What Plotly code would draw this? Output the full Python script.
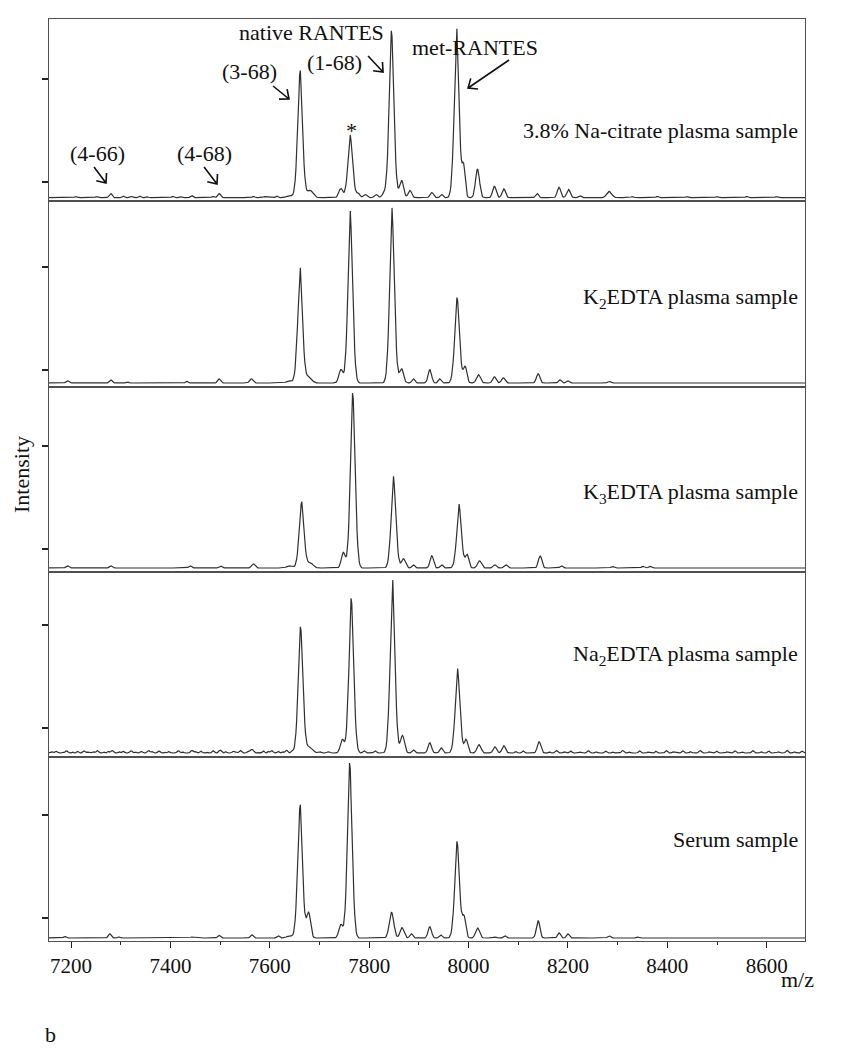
import math
import numpy as np
import plotly.graph_objects as go

# ---------------- data ----------------
MZ_RANGE = [7155.7, 8677.0]
X_TICKS = [7200, 7400, 7600, 7800, 8000, 8200, 8400, 8600]
X_MINOR = [7300, 7500, 7700, 7900, 8100, 8300, 8500]

sample_labels = [
    "3.8% Na-citrate plasma sample",
    "K<sub>2</sub>EDTA plasma sample",
    "K<sub>3</sub>EDTA plasma sample",
    "Na<sub>2</sub>EDTA plasma sample",
    "Serum sample",
]

# baseline level of each spectrum (intensity, a.u.)
baselines = [0.848, 0.874, 0.816, 0.757, 0.806]

# peaks: m/z, height above baseline, width (sigma, Da)
citrate_mz = [7210, 7252, 7280, 7305, 7322, 7338, 7352, 7405, 7420, 7443, 7486, 7498, 7567, 7590, 7614, 7640,
              7661, 7681, 7743, 7762, 7778, 7792, 7814, 7830, 7845, 7865, 7882, 7926, 7946,
              7976, 7990, 8018, 8052, 8071, 8138, 8182, 8201, 8224, 8283, 8330, 8380, 8440, 8500, 8560, 8620]
citrate_h = [0.01, 0.01, 0.04, 0.015, 0.012, 0.015, 0.01, 0.012, 0.01, 0.02, 0.012, 0.04, 0.012, 0.01, 0.015, 0.02,
             1.25, 0.07, 0.09, 0.61, 0.04, 0.03, 0.03, 0.04, 1.64, 0.17, 0.07, 0.05, 0.03,
             1.66, 0.30, 0.28, 0.11, 0.085, 0.04, 0.10, 0.08, 0.02, 0.06, 0.01, 0.012, 0.01, 0.01, 0.012, 0.01]
citrate_w = [2.5, 2.5, 3.0, 2.5, 2.5, 2.5, 2.5, 2.5, 2.5, 2.5, 2.5, 3.0, 2.5, 2.5, 2.5, 6.0,
             5.2, 6.0, 4.0, 5.2, 3.5, 3.5, 3.5, 4.0, 5.2, 4.0, 3.5, 3.5, 3.0,
             5.2, 3.2, 4.0, 3.5, 3.5, 3.0, 3.5, 3.5, 3.0, 5.0, 2.5, 2.5, 2.5, 2.5, 2.5, 2.5]

k2_mz = [7193, 7280, 7313, 7433, 7498, 7563, 7640, 7661, 7678, 7743, 7762, 7846, 7865, 7889, 7922, 7942,
         7977, 7993, 8020, 8052, 8070, 8140, 8184, 8200, 8283]
k2_h = [0.02, 0.03, 0.01, 0.015, 0.04, 0.04, 0.02, 1.13, 0.06, 0.13, 1.67, 1.70, 0.14, 0.04, 0.13, 0.04,
        0.84, 0.16, 0.08, 0.06, 0.05, 0.09, 0.03, 0.02, 0.015]
k2_w = [3.0, 3.0, 2.5, 2.5, 3.0, 3.5, 6.0, 5.2, 6.0, 4.0, 5.2, 5.2, 4.0, 3.0, 3.5, 3.0,
        5.2, 3.5, 4.0, 3.5, 3.5, 3.5, 3.0, 3.0, 3.0]

k3_mz = [7193, 7280, 7440, 7501, 7567, 7640, 7664, 7681, 7748, 7767, 7849, 7869, 7889, 7926, 7946,
         7981, 7997, 8022, 8053, 8075, 8144, 8187, 8290, 8351, 8365]
k3_h = [0.02, 0.02, 0.02, 0.02, 0.04, 0.02, 0.65, 0.05, 0.15, 1.72, 0.89, 0.09, 0.03, 0.12, 0.03,
        0.62, 0.13, 0.07, 0.03, 0.03, 0.12, 0.02, 0.015, 0.015, 0.015]
k3_w = [3.0, 3.0, 3.0, 3.0, 3.5, 6.0, 5.2, 6.0, 4.0, 5.2, 5.2, 4.0, 3.0, 3.5, 3.0,
        5.2, 3.5, 4.0, 3.5, 3.5, 3.5, 3.0, 3.0, 3.0, 3.0]

na2_mz = [7161, 7170, 7183, 7191, 7203, 7213, 7226, 7233, 7245, 7253, 7266, 7275, 7283, 7297, 7305, 7321,
          7330, 7341, 7356, 7363, 7377, 7389, 7397, 7416, 7425, 7443, 7450, 7461, 7474, 7486, 7500, 7511,
          7527, 7533, 7541, 7556, 7564, 7578, 7587, 7597, 7604, 7617, 7626, 7634, 7645,
          7662, 7680, 7700, 7718, 7746, 7764, 7790, 7812, 7847, 7867, 7889, 7922, 7945,
          7978, 7995, 8021, 8053, 8071, 8095, 8110, 8142, 8163, 8177, 8193, 8205, 8224, 8241,
          8257, 8276, 8291, 8310, 8323, 8344, 8361, 8377, 8398, 8412, 8431, 8447, 8466, 8484,
          8499, 8520, 8536, 8551, 8572, 8589, 8604, 8623, 8641, 8656, 8671]
na2_h = [0.012, 0.018, 0.008, 0.022, 0.01, 0.015, 0.02, 0.008, 0.012, 0.022, 0.01, 0.016, 0.024, 0.01, 0.018, 0.022,
         0.009, 0.017, 0.024, 0.012, 0.02, 0.008, 0.014, 0.022, 0.01, 0.024, 0.012, 0.018, 0.01, 0.022, 0.03, 0.012,
         0.018, 0.01, 0.024, 0.012, 0.036, 0.01, 0.02, 0.014, 0.022, 0.016, 0.012, 0.026, 0.02,
         1.24, 0.06, 0.015, 0.012, 0.13, 1.52, 0.02, 0.02, 1.70, 0.17, 0.03, 0.10, 0.05,
         0.82, 0.13, 0.08, 0.06, 0.07, 0.015, 0.02, 0.11, 0.01, 0.024, 0.012, 0.02, 0.008, 0.022,
         0.012, 0.018, 0.01, 0.024, 0.012, 0.02, 0.008, 0.016, 0.022, 0.01, 0.02, 0.014, 0.024, 0.01,
         0.018, 0.012, 0.02, 0.009, 0.022, 0.013, 0.02, 0.01, 0.024, 0.012, 0.018]
na2_w = ([1.8, 2.2, 1.6, 2.4, 1.8, 2.0, 2.4, 1.6, 2.0, 2.2, 1.8, 2.0, 2.4, 1.6, 2.0, 2.4,
          1.8, 2.2, 2.4, 1.8, 2.2, 1.6, 2.0, 2.4, 1.8, 2.6, 1.8, 2.2, 1.6, 2.2, 2.6, 1.8,
          2.2, 1.6, 2.4, 1.8, 3.2, 1.8, 2.2, 1.8, 2.2, 2.0, 1.8, 2.4, 2.2]
         + [5.2, 6.0, 2.5, 2.5, 4.0, 5.2, 2.5, 2.5, 5.2, 4.0, 3.0, 3.5, 3.0,
            5.2, 3.5, 4.0, 3.5, 3.5, 2.0, 2.0, 3.5]
         + [1.8, 2.4, 1.6, 2.2, 1.8, 2.4, 1.8, 2.2, 1.6, 2.4, 1.8, 2.2, 1.6, 2.0, 2.4, 1.8,
            2.2, 1.8, 2.4, 1.6, 2.2, 1.8, 2.2, 1.6, 2.4, 1.8, 2.0, 1.8, 2.4, 1.8, 2.0])

serum_mz = [7188, 7278, 7296, 7443, 7498, 7564, 7617, 7640, 7661, 7678, 7743, 7761, 7845, 7866, 7885, 7922, 7944,
            7977, 7991, 8018, 8053, 8073, 8140, 8182, 8200, 8283, 8340]
serum_h = [0.015, 0.04, 0.01, 0.01, 0.025, 0.03, 0.02, 0.02, 1.31, 0.25, 0.13, 1.72, 0.25, 0.10, 0.04, 0.11, 0.03,
           0.95, 0.20, 0.10, 0.01, 0.02, 0.17, 0.05, 0.04, 0.02, 0.01]
serum_w = [2.5, 3.0, 2.5, 2.5, 3.0, 3.0, 3.0, 6.0, 5.2, 4.0, 4.0, 5.2, 4.5, 4.0, 3.0, 3.5, 3.0,
           5.2, 3.5, 4.0, 3.0, 3.0, 3.5, 3.0, 3.0, 3.0, 2.5]

peak_tables = [
    (citrate_mz, citrate_h, citrate_w),
    (k2_mz, k2_h, k2_w),
    (k3_mz, k3_h, k3_w),
    (na2_mz, na2_h, na2_w),
    (serum_mz, serum_h, serum_w),
]

# peak annotations of the top spectrum: text, m/z, intensity
label_text = ["native RANTES", "(1-68)", "(3-68)", "*", "(4-66)", "(4-68)", "met-RANTES"]
label_mz = [7684, 7730, 7560, 7765, 7254, 7469, 8012]
label_y = [2.447, 2.165, 2.068, 1.50, 1.2815, 1.2815, 2.301]

# arrows of the top spectrum: tail (m/z, y) -> tip (m/z, y)
arrow_tail = [(7246.3, 1.1456), (7467.7, 1.1456), (7606.5, 1.932), (7797.7, 2.2233), (8081.5, 2.1845)]
arrow_tip = [(7270.4, 0.9903), (7493.8, 0.9806), (7638.7, 1.8058), (7827.9, 2.0679), (7999.0, 1.9126)]

# ---------------- layout geometry ----------------
W, H = 845, 1050
ML, MR, MT, MB = 49, 40, 19, 109
panel_px = [(19, 201), (201, 387), (387, 572), (572, 757), (757, 941)]
y_ranges = [[0.8155, 2.5825], [0.835, 2.641], [0.777, 2.573], [0.718, 2.514], [0.777, 2.563]]
plot_h = H - MT - MB
plot_w = W - ML - MR
domains = [[(941 - b) / plot_h, (941 - t) / plot_h] for t, b in panel_px]

FONT = "Liberation Serif, Times New Roman, serif"
LINE_C = "#505050"
TRACE_C = "#303030"

mz = np.arange(7150.0, 8680.0, 1.5)

fig = go.Figure()
for i, (pm, ph, pw) in enumerate(peak_tables):
    y = np.full_like(mz, baselines[i])
    for c, h, s in zip(pm, ph, pw):
        if h > 0.4:
            # main peaks: broad body plus a narrow apex
            y += 0.82 * h * np.exp(-0.5 * ((mz - c) / s) ** 2)
            y += 0.18 * h * np.exp(-0.5 * ((mz - c) / 1.6) ** 2)
        else:
            y += h * np.exp(-0.5 * ((mz - c) / s) ** 2)
    n = "" if i == 0 else str(i + 1)
    fig.add_trace(go.Scatter(x=mz, y=y, mode="lines", line=dict(color=TRACE_C, width=1.2),
                             xaxis="x" + n, yaxis="y" + n, showlegend=False, hoverinfo="skip"))

layout = dict(
    width=W, height=H, margin=dict(l=ML, r=MR, t=MT, b=MB),
    paper_bgcolor="white", plot_bgcolor="white", showlegend=False,
    font=dict(family=FONT, size=21, color="#111111"),
)
for i in range(5):
    n = "" if i == 0 else str(i + 1)
    last = i == 4
    xa = dict(domain=[0, 1], range=MZ_RANGE, anchor="y" + n, showgrid=False, zeroline=False,
              showline=True, mirror=True, linecolor=LINE_C, linewidth=1.3)
    if last:
        xa.update(tickmode="array", tickvals=X_TICKS, ticks="outside", ticklen=6, tickwidth=1.3,
                  tickcolor="#222", tickfont=dict(family=FONT, size=21, color="#111"),
                  minor=dict(tickvals=X_MINOR, ticks="outside", ticklen=3, tickwidth=1.0, tickcolor="#222"))
    else:
        xa.update(showticklabels=False, ticks="", matches="x5")
    ya = dict(domain=domains[i], range=y_ranges[i], anchor="x" + n, showgrid=False, zeroline=False,
              showline=True, mirror=True, linecolor=LINE_C, linewidth=1.3,
              tickmode="array", tickvals=[1, 2], showticklabels=False, ticks="outside",
              ticklen=6, tickwidth=1.6, tickcolor="#222")
    layout["xaxis" + n] = xa
    layout["yaxis" + n] = ya
fig.update_layout(**layout)

ann_font = dict(family=FONT, size=22, color="#111111")
for t, xm, yv in zip(label_text, label_mz, label_y):
    fig.add_annotation(x=xm, y=yv, xref="x", yref="y", text=t, showarrow=False, font=ann_font,
                       xanchor="center", yanchor="middle")

label_py = [131, 298, 493, 655, 839]
for t, py in zip(sample_labels, label_py):
    fig.add_annotation(x=(800 - ML) / plot_w, y=(941 - py) / plot_h, xref="paper", yref="paper",
                       text=t, showarrow=False, font=ann_font, xanchor="right", yanchor="middle")

fig.add_annotation(x=(21 - ML) / plot_w, y=(941 - 475) / plot_h, xref="paper", yref="paper",
                   text="Intensity", textangle=-90, showarrow=False, font=ann_font,
                   xanchor="center", yanchor="middle")
fig.add_annotation(x=(797 - ML) / plot_w, y=(941 - 980) / plot_h, xref="paper", yref="paper",
                   text="m/z", showarrow=False, font=ann_font, xanchor="center", yanchor="middle")
fig.add_annotation(x=(50 - ML) / plot_w, y=(941 - 1034) / plot_h, xref="paper", yref="paper",
                   text="b", showarrow=False, font=ann_font, xanchor="center", yanchor="middle")

# open "V" arrows
KX = plot_w / (MZ_RANGE[1] - MZ_RANGE[0])
KY = (panel_px[0][1] - panel_px[0][0]) / (y_ranges[0][1] - y_ranges[0][0])
HEAD_LEN, HEAD_ANG = 10.0, math.radians(40)
for (tx, ty), (hx, hy) in zip(arrow_tail, arrow_tip):
    dx, dy = (hx - tx) * KX, (hy - ty) * KY
    L = math.hypot(dx, dy)
    bx, by = -dx / L, -dy / L
    arms = []
    for a in (HEAD_ANG, -HEAD_ANG):
        vx = bx * math.cos(a) - by * math.sin(a)
        vy = bx * math.sin(a) + by * math.cos(a)
        arms.append((hx + vx * HEAD_LEN / KX, hy + vy * HEAD_LEN / KY))
    path = (f"M {tx},{ty} L {hx},{hy} M {arms[0][0]},{arms[0][1]} L {hx},{hy} "
            f"L {arms[1][0]},{arms[1][1]}")
    fig.add_shape(type="path", path=path, xref="x", yref="y", line=dict(color="#111", width=1.6))

fig.write_html("out.html", config={"displayModeBar": False})

# remove the browser's default page margin so the figure sits at the window origin
with open("out.html", "r", encoding="utf-8") as f:
    html = f.read()
html = html.replace("<head>", "<head><style>html,body{margin:0;padding:0;}</style>", 1)
with open("out.html", "w", encoding="utf-8") as f:
    f.write(html)
